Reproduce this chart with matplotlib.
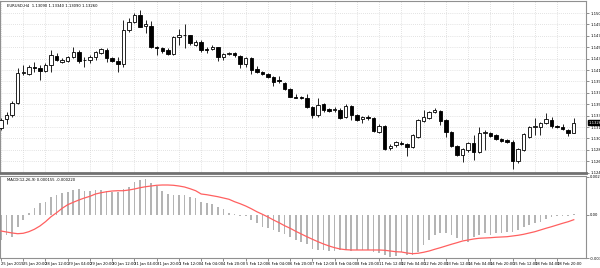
import numpy as np
import matplotlib
matplotlib.use("Agg")
import matplotlib.pyplot as plt

# EURUSD H4 candles
opens = [1.1317, 1.1332, 1.1339, 1.1359, 1.1409, 1.1407, 1.1419, 1.1417, 1.1412, 1.1422,
         1.1437, 1.1427, 1.1429, 1.1436, 1.1444, 1.1430, 1.1431, 1.1436, 1.1442, 1.1447,
         1.1434, 1.1429, 1.1424, 1.1481, 1.1494, 1.1506, 1.1487, 1.1487, 1.1453, 1.1451,
         1.1447, 1.1441, 1.1469, 1.1473, 1.1472, 1.1456, 1.1461, 1.1449, 1.1449, 1.1452,
         1.1436, 1.1441, 1.1442, 1.1437, 1.1424, 1.1434, 1.1416, 1.1411, 1.1407, 1.1402,
         1.1397, 1.1392, 1.1382, 1.1369, 1.1369, 1.1367, 1.1352, 1.1339, 1.1357, 1.1349,
         1.1347, 1.1347, 1.1336, 1.1354, 1.1339, 1.1332, 1.1336, 1.1334, 1.1311, 1.1321,
         1.1284, 1.1289, 1.1293, 1.1291, 1.1286, 1.1302, 1.1329, 1.1334, 1.1344, 1.1346,
         1.1331, 1.1311, 1.1287, 1.1272, 1.1281, 1.1292, 1.1277, 1.1309, 1.1309, 1.1306,
         1.1299, 1.1297, 1.1294, 1.1262, 1.1281, 1.1302, 1.1319, 1.1319, 1.1326, 1.1331,
         1.1321, 1.1319, 1.1314, 1.1309]
highs = [1.1334, 1.1344, 1.1362, 1.1417, 1.1422, 1.1422, 1.1427, 1.1422, 1.1426, 1.1447,
         1.1442, 1.1434, 1.1437, 1.1452, 1.1447, 1.1436, 1.1439, 1.1446, 1.1451, 1.1451,
         1.1436, 1.1436, 1.1497, 1.1501, 1.1509, 1.1514, 1.1497, 1.1496, 1.1454, 1.1452,
         1.1451, 1.1471, 1.1482, 1.1491, 1.1473, 1.1464, 1.1464, 1.1452, 1.1456, 1.1453,
         1.1442, 1.1444, 1.1444, 1.1439, 1.1436, 1.1436, 1.1421, 1.1412, 1.1409, 1.1404,
         1.1404, 1.1394, 1.1384, 1.1374, 1.1371, 1.1374, 1.1354, 1.1367, 1.1359, 1.1351,
         1.1352, 1.1351, 1.1357, 1.1356, 1.1341, 1.1337, 1.1339, 1.1336, 1.1324, 1.1322,
         1.1291, 1.1296, 1.1296, 1.1293, 1.1307, 1.1332, 1.1347, 1.1346, 1.1351, 1.1347,
         1.1332, 1.1312, 1.1289, 1.1284, 1.1294, 1.1306, 1.1319, 1.1314, 1.1311, 1.1307,
         1.1301, 1.1299, 1.1297, 1.1284, 1.1309, 1.1321, 1.1334, 1.1327, 1.1342, 1.1336,
         1.1322, 1.1324, 1.1316, 1.1334]
lows = [1.1314, 1.1324, 1.1336, 1.1357, 1.1406, 1.1406, 1.1411, 1.1397, 1.1411, 1.1411,
        1.1429, 1.1426, 1.1427, 1.1434, 1.1426, 1.1419, 1.1426, 1.1431, 1.1441, 1.1427,
        1.1427, 1.1411, 1.1419, 1.1477, 1.1492, 1.1486, 1.1476, 1.1451, 1.1439, 1.1442,
        1.1439, 1.1439, 1.1456, 1.1451, 1.1456, 1.1454, 1.1444, 1.1442, 1.1447, 1.1429,
        1.1431, 1.1439, 1.1436, 1.1417, 1.1419, 1.1407, 1.1409, 1.1406, 1.1401, 1.1387,
        1.1392, 1.1381, 1.1369, 1.1367, 1.1366, 1.1351, 1.1334, 1.1336, 1.1344, 1.1344,
        1.1344, 1.1332, 1.1334, 1.1331, 1.1329, 1.1326, 1.1331, 1.1311, 1.1309, 1.1281,
        1.1281, 1.1286, 1.1289, 1.1271, 1.1284, 1.1301, 1.1327, 1.1332, 1.1342, 1.1322,
        1.1302, 1.1286, 1.1271, 1.1261, 1.1277, 1.1264, 1.1276, 1.1281, 1.1302, 1.1297,
        1.1294, 1.1292, 1.1249, 1.1259, 1.1279, 1.1301, 1.1306, 1.1306, 1.1324, 1.1317,
        1.1317, 1.1314, 1.1304, 1.1309]
closes = [1.1331, 1.1339, 1.1359, 1.1409, 1.1411, 1.1419, 1.1417, 1.1412, 1.1422, 1.1439,
          1.1431, 1.1431, 1.1436, 1.1444, 1.1429, 1.1431, 1.1436, 1.1444, 1.1449, 1.1434,
          1.1429, 1.1424, 1.1481, 1.1494, 1.1506, 1.1486, 1.1491, 1.1452, 1.1451, 1.1446,
          1.1441, 1.1469, 1.1472, 1.1472, 1.1459, 1.1461, 1.1447, 1.1448, 1.1452, 1.1436,
          1.1441, 1.1442, 1.1439, 1.1424, 1.1434, 1.1414, 1.1411, 1.1407, 1.1402, 1.1394,
          1.1396, 1.1382, 1.1369, 1.1368, 1.1367, 1.1352, 1.1339, 1.1356, 1.1347, 1.1346,
          1.1349, 1.1334, 1.1354, 1.1339, 1.1331, 1.1336, 1.1334, 1.1312, 1.1321, 1.1282,
          1.1287, 1.1294, 1.1291, 1.1286, 1.1306, 1.1331, 1.1336, 1.1344, 1.1347, 1.1329,
          1.1311, 1.1287, 1.1272, 1.1282, 1.1292, 1.1277, 1.1309, 1.1310, 1.1304, 1.1299,
          1.1296, 1.1294, 1.1262, 1.1282, 1.1307, 1.1319, 1.1320, 1.1326, 1.1332, 1.1321,
          1.1319, 1.1316, 1.1309, 1.1326]

# MACD(12,26,9): main line (histogram) and signal line
macd_main = [-0.00175, -0.00140, -0.00154, -0.00084, -0.00035, 0.00012, 0.00047, 0.00082, 0.00093, 0.00128,
             0.00140, 0.00152, 0.00163, 0.00175, 0.00180, 0.00170, 0.00170, 0.00175, 0.00175, 0.00170,
             0.00163, 0.00163, 0.00180, 0.00198, 0.00233, 0.00245, 0.00250, 0.00222, 0.00203, 0.00170,
             0.00147, 0.00140, 0.00140, 0.00140, 0.00124, 0.00121, 0.00093, 0.00082, 0.00075, 0.00054,
             0.00040, 0.00016, 0.00007, -0.00005, -0.00005, -0.00035, -0.00058, -0.00082, -0.00093, -0.00105,
             -0.00117, -0.00135, -0.00152, -0.00175, -0.00187, -0.00203, -0.00240, -0.00245, -0.00245, -0.00250,
             -0.00252, -0.00245, -0.00245, -0.00250, -0.00245, -0.00245, -0.00245, -0.00257, -0.00268, -0.00280,
             -0.00292, -0.00287, -0.00257, -0.00280, -0.00280, -0.00257, -0.00210, -0.00175, -0.00140, -0.00124,
             -0.00124, -0.00140, -0.00163, -0.00175, -0.00187, -0.00152, -0.00140, -0.00128, -0.00140, -0.00128,
             -0.00124, -0.00117, -0.00117, -0.00105, -0.00086, -0.00070, -0.00058, -0.00047, -0.00030, -0.00012,
             -0.00007, -0.00005, -0.00005, 0.00007]
macd_signal = [-0.00112, -0.00119, -0.00126, -0.00131, -0.00128, -0.00117, -0.00100, -0.00077, -0.00047, -0.00012,
               0.00016, 0.00047, 0.00072, 0.00089, 0.00105, 0.00119, 0.00131, 0.00147, 0.00156, 0.00163,
               0.00168, 0.00170, 0.00170, 0.00175, 0.00182, 0.00191, 0.00198, 0.00203, 0.00208, 0.00210,
               0.00210, 0.00208, 0.00203, 0.00196, 0.00184, 0.00170, 0.00147, 0.00142, 0.00135, 0.00128,
               0.00119, 0.00110, 0.00093, 0.00079, 0.00063, 0.00044, 0.00023, 0.00005, -0.00014, -0.00035,
               -0.00054, -0.00075, -0.00093, -0.00114, -0.00133, -0.00152, -0.00170, -0.00187, -0.00203, -0.00217,
               -0.00229, -0.00238, -0.00243, -0.00245, -0.00245, -0.00245, -0.00245, -0.00245, -0.00245, -0.00247,
               -0.00252, -0.00257, -0.00259, -0.00266, -0.00271, -0.00268, -0.00261, -0.00252, -0.00240, -0.00229,
               -0.00217, -0.00205, -0.00194, -0.00182, -0.00175, -0.00168, -0.00163, -0.00161, -0.00159, -0.00156,
               -0.00154, -0.00152, -0.00147, -0.00142, -0.00135, -0.00126, -0.00117, -0.00105, -0.00093, -0.00082,
               -0.00070, -0.00058, -0.00047, -0.00033]

time_labels = ["25 Jan 2019", "25 Jan 20:00", "28 Jan 12:00", "29 Jan 04:00", "29 Jan 20:00",
               "30 Jan 12:00", "31 Jan 04:00", "31 Jan 20:00", "1 Feb 12:00", "4 Feb 04:00",
               "4 Feb 20:00", "5 Feb 12:00", "6 Feb 04:00", "6 Feb 20:00", "7 Feb 12:00",
               "8 Feb 04:00", "8 Feb 20:00", "11 Feb 12:00", "12 Feb 04:00", "12 Feb 20:00",
               "13 Feb 12:00", "14 Feb 04:00", "14 Feb 20:00", "15 Feb 12:00", "18 Feb 04:00",
               "18 Feb 20:00"]
price_ticks = [1.15090, 1.14900, 1.14710, 1.14520, 1.14330, 1.14140, 1.13950, 1.13760,
               1.13570, 1.13380, 1.13190, 1.13000, 1.12810, 1.12620, 1.12430]
macd_ticks = [0.002675, 0.0, -0.003011]

plt.rcParams['font.family'] = ['Liberation Sans Narrow', 'DejaVu Sans']
fs = 2.7
W, H = 600, 268
fig = plt.figure(figsize=(W / 100, H / 100), dpi=100)
fig.patch.set_facecolor('white')

def frac(x0, y0, x1, y1):
    return [x0 / W, 1 - y1 / H, (x1 - x0) / W, (y1 - y0) / H]

ax = fig.add_axes(frac(0, 1, 586, 173))
ax2 = fig.add_axes(frac(0, 176, 586, 258))

n = len(opens)
x = np.arange(n)
o = np.array(opens); h = np.array(highs); l = np.array(lows); c = np.array(closes)
up = c >= o

ax.vlines(x, l, h, color='black', lw=0.6, zorder=2)
bot = np.minimum(o, c)
hgt = np.maximum(np.abs(c - o), 0.00003)
ax.bar(x[up], hgt[up], bottom=bot[up], width=0.62, color='white',
       edgecolor='black', linewidth=0.6, zorder=3)
ax.bar(x[~up], hgt[~up], bottom=bot[~up], width=0.62, color='black',
       edgecolor='black', linewidth=0.6, zorder=3)

xmin, xmax = -0.18, 105.2
ax.set_xlim(xmin, xmax)
ax.set_ylim(1.15307 - 173 / 6000, 1.15307 - 1 / 6000)
tick_pos = np.arange(len(time_labels)) * 4
ax.set_xticks(tick_pos)
ax.set_yticks(price_ticks)
ax.grid(True, color='#c8c8c8', linestyle=(0, (1, 2)), linewidth=0.5)
ax.tick_params(left=False, bottom=False, labelbottom=False, labelleft=False,
               right=True, labelright=True, length=2, width=0.5, color='#606060',
               labelsize=fs, pad=1)
ax.set_yticklabels([f"{p:.5f}" for p in price_ticks])
for s in ax.spines.values():
    s.set_color('#909090'); s.set_linewidth(0.8)
ax.spines['bottom'].set_linewidth(2.0)
ax.spines['bottom'].set_color('#707070')

# title and current price box
ax.text(0.012, 0.985, f"EURUSD,H4  {opens[-1]:.5f} {highs[-1]:.5f} {lows[-1]:.5f} {closes[-1]:.5f}",
        transform=ax.transAxes, fontsize=fs, va='top', ha='left', color='black')
ax.text(1.004, closes[-1], f"{closes[-1]:.5f}", transform=ax.get_yaxis_transform(),
        fontsize=fs, va='center', ha='left', color='white',
        bbox=dict(boxstyle='square,pad=0.15', fc='black', ec='black'), clip_on=False, zorder=5)

# MACD panel
ax2.bar(x, macd_main, width=0.3, color='#b4b4b4', zorder=2)
ax2.plot(x, macd_signal, color='#ff6060', lw=0.9, zorder=3)
ax2.set_xlim(xmin, xmax)
ax2.set_ylim(-43 * 7e-5, 39 * 7e-5)
ax2.set_yticks(macd_ticks)
ax2.set_yticklabels(["0.002675", "0.00", "-0.003011"])
ax2.set_xticks(tick_pos)
ax2.set_xticklabels(time_labels, ha='left')
ax2.tick_params(left=False, labelleft=False, right=True, labelright=True,
                length=2, width=0.5, color='#606060', labelsize=fs, pad=1)
for s in ax2.spines.values():
    s.set_color('#909090'); s.set_linewidth(0.8)
ax2.text(0.012, 0.97, "MACD(12,26,9) 0.000155 -0.000220", transform=ax2.transAxes,
         fontsize=fs, va='top', ha='left', color='black')

fig.savefig("out.png", dpi=100, facecolor='white')
